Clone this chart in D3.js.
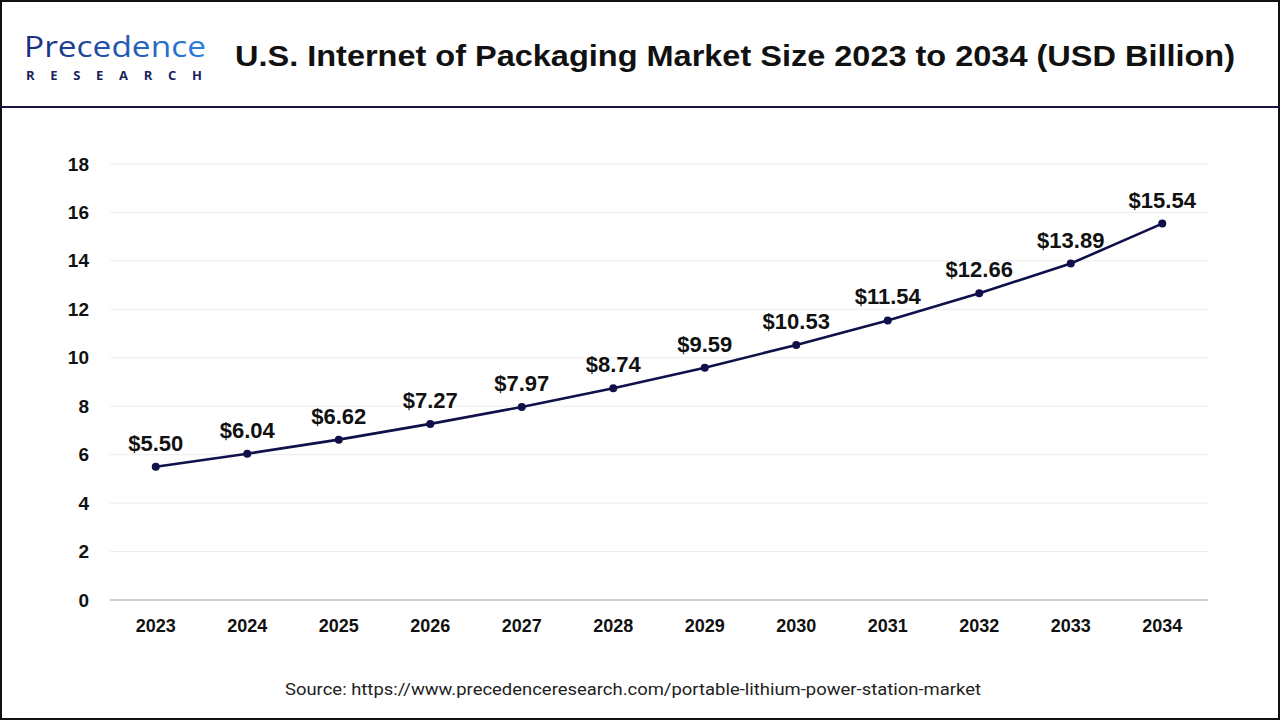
<!DOCTYPE html>
<html><head><meta charset="utf-8">
<script src="https://cdn.jsdelivr.net/npm/d3@7"></script>
<style>body{margin:0;background:#fff}svg{display:block}</style>
</head><body>
<svg id="c" width="1280" height="720"></svg>
<script>
const years = ["2023","2024","2025","2026","2027","2028","2029","2030","2031","2032","2033","2034"];
const values = [5.50,6.04,6.62,7.27,7.97,8.74,9.59,10.53,11.54,12.66,13.89,15.54];
const yTicks = [0,2,4,6,8,10,12,14,16,18];
const title = "U.S. Internet of Packaging Market Size 2023 to 2034 (USD Billion)";
const source = "Source: https://www.precedenceresearch.com/portable-lithium-power-station-market";

const svg = d3.select("#c");
svg.append("rect").attr("x",1).attr("y",1).attr("width",1278).attr("height",718)
  .attr("fill","#fff").attr("stroke","#111").attr("stroke-width",2);
svg.append("line").attr("x1",0).attr("x2",1280).attr("y1",107).attr("y2",107)
  .attr("stroke","#14143c").attr("stroke-width",2);

// logo
const lg = svg.append("g");
const grad = svg.append("defs").append("linearGradient").attr("id","lgG").attr("x1","0").attr("x2","1");
grad.append("stop").attr("offset","0").attr("stop-color","#1a2a7a");
grad.append("stop").attr("offset","1").attr("stop-color","#2e7fe0");
lg.append("text").attr("x",24).attr("y",57).attr("font-family","'Open Sans', sans-serif")
  .attr("font-size",29).attr("font-weight",500).attr("fill","url(#lgG)").attr("textLength",182)
  .attr("lengthAdjust","spacingAndGlyphs").text("Precedence");
lg.append("text").attr("x",26).attr("y",80).attr("font-family","'Open Sans', sans-serif")
  .attr("font-size",13).attr("font-weight",700).attr("fill","#1b1f5c").attr("textLength",176)
  .attr("lengthAdjust","spacing").text("RESEARCH");

svg.append("text").attr("x",735).attr("y",66).attr("text-anchor","middle")
  .attr("font-family","'Liberation Sans', Arial, sans-serif").attr("font-weight",700)
  .attr("font-size",30).attr("fill","#111").attr("textLength",1000).attr("lengthAdjust","spacingAndGlyphs").text(title);

const x = d3.scaleBand().domain(years).range([110,1208]);
const y = d3.scaleLinear().domain([0,18]).range([600,164]);

const g = svg.append("g");
g.selectAll(".grid").data(yTicks.filter(d=>d>0)).join("line")
  .attr("x1",110).attr("x2",1208).attr("y1",d=>y(d)).attr("y2",d=>y(d))
  .attr("stroke","#ececec").attr("stroke-width",1);
g.append("line").attr("x1",110).attr("x2",1208).attr("y1",y(0)).attr("y2",y(0))
  .attr("stroke","#bfbfbf").attr("stroke-width",1.5);

const yAxis = svg.append("g").attr("transform","translate(110,0)")
  .call(d3.axisLeft(y).tickValues(yTicks).tickSize(0).tickPadding(21));
yAxis.select(".domain").remove();
yAxis.selectAll("text").attr("font-family","'Liberation Sans', Arial, sans-serif")
  .attr("font-weight",700).attr("font-size",19).attr("fill","#111");

const xAxis = svg.append("g").attr("transform","translate(0,600)")
  .call(d3.axisBottom(x).tickSize(0).tickPadding(19));
xAxis.select(".domain").remove();
xAxis.selectAll("text").attr("font-family","'Liberation Sans', Arial, sans-serif")
  .attr("font-weight",700).attr("font-size",18).attr("fill","#111");

const cx = d => x(d) + x.bandwidth()/2;
const line = d3.line().x((d,i)=>cx(years[i])).y(d=>y(d));
svg.append("path").datum(values).attr("d",line).attr("fill","none")
  .attr("stroke","#10104a").attr("stroke-width",2.6);
svg.selectAll(".pt").data(values).join("circle")
  .attr("cx",(d,i)=>cx(years[i])).attr("cy",d=>y(d)).attr("r",4).attr("fill","#10104a");
svg.selectAll(".lbl").data(values).join("text")
  .attr("x",(d,i)=>cx(years[i])).attr("y",d=>y(d)-16).attr("text-anchor","middle")
  .attr("font-family","'Liberation Sans', Arial, sans-serif").attr("font-weight",700)
  .attr("font-size",22).attr("fill","#111").text(d=>"$"+d.toFixed(2));

svg.append("text").attr("x",633).attr("y",695).attr("text-anchor","middle")
  .attr("font-family","Roboto, sans-serif").attr("font-size",17).attr("fill","#222")
  .attr("textLength",696).attr("lengthAdjust","spacingAndGlyphs").text(source);
</script>
</body></html>
